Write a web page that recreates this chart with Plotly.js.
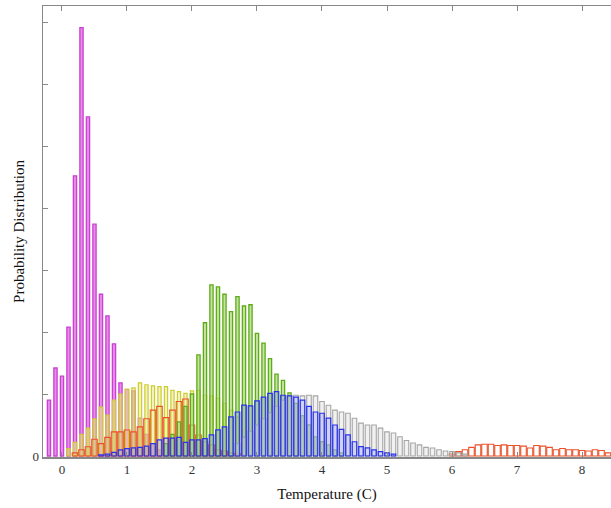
<!DOCTYPE html>
<html><head><meta charset="utf-8">
<script src="https://cdn.plot.ly/plotly-3.0.1.min.js"></script>
<style>html,body{margin:0;padding:0;background:#fff}#c{width:611px;height:508px}</style>
</head><body><div id="c"></div>
<script>
// Series bins (temperature, C) and probability values
const magentaX = [-0.2,-0.1,0.0,0.1,0.2,0.3,0.4,0.5,0.6,0.7,0.8,0.9,1.0,1.1,1.2,1.3,1.4,1.5];
const magentaY = [0.90,1.42,1.29,2.08,4.52,6.91,5.47,3.74,2.61,2.26,1.81,1.18,1.07,1.05,0.61,0.35,0.20,0.10];

const yellowX = [0.1,0.2,0.3,0.4,0.5,0.6,0.7,0.8,0.9,1.0,1.1,1.2,1.3,1.4,1.5,1.6,1.7,1.8,1.9,2.0,2.1,2.2,2.3,2.4,2.5,2.6,2.7,2.8];
const yellowY = [0.12,0.22,0.35,0.45,0.60,0.79,0.66,0.90,1.00,1.08,1.10,1.18,1.15,1.13,1.12,1.12,1.06,1.04,1.01,1.05,1.06,0.98,0.97,0.93,0.85,0.74,0.63,0.30];

const redX = [0.2,0.3,0.4,0.5,0.6,0.7,0.8,0.9,1.0,1.1,1.2,1.3,1.4,1.5,1.6,1.7,1.8,1.9,2.0,2.1,2.2,2.3,2.4,2.5,2.6,2.7,
  6.0,6.1,6.2,6.3,6.4,6.5,6.6,6.7,6.8,6.9,7.0,7.1,7.2,7.3,7.4,7.5,7.6,7.7,7.8,7.9,8.0,8.1,8.2,8.3,8.4,8.5];
const redY = [0.05,0.10,0.15,0.27,0.20,0.30,0.39,0.39,0.42,0.39,0.47,0.60,0.74,0.80,0.62,0.74,0.88,0.92,0.50,0.34,0.23,0.18,0.10,0.08,0.05,0.04,
  0.03,0.07,0.10,0.14,0.18,0.19,0.19,0.17,0.18,0.17,0.17,0.16,0.13,0.17,0.16,0.14,0.10,0.12,0.10,0.10,0.09,0.08,0.10,0.09,0.05,0.05];

const greenX = [1.6,1.7,1.8,1.9,2.0,2.1,2.2,2.3,2.4,2.5,2.6,2.7,2.8,2.9,3.0,3.1,3.2,3.3,3.4,3.5,3.6,3.7,3.8,3.9,4.0,4.1,4.2,4.3];
const greenY = [0.20,0.35,0.55,0.80,1.00,1.63,2.15,2.76,2.73,2.61,2.33,2.57,2.42,2.44,1.98,1.82,1.57,1.32,1.22,1.02,0.85,0.65,0.50,0.31,0.23,0.18,0.10,0.05];

const grayX = [2.7,2.8,2.9,3.0,3.1,3.2,3.3,3.4,3.5,3.6,3.7,3.8,3.9,4.0,4.1,4.2,4.3,4.4,4.5,4.6,4.7,4.8,4.9,5.0,5.1,5.2,5.3,5.4,5.5,5.6,5.7,5.8,5.9,6.0,6.1,6.2];
const grayY = [0.20,0.30,0.40,0.50,0.60,0.70,0.80,0.90,0.97,0.98,0.97,0.98,0.97,0.88,0.82,0.74,0.71,0.69,0.61,0.53,0.50,0.50,0.45,0.39,0.37,0.31,0.25,0.21,0.18,0.14,0.13,0.10,0.08,0.07,0.05,0.03];

const blueX = [0.6,0.7,0.8,0.9,1.0,1.1,1.2,1.3,1.4,1.5,1.6,1.7,1.8,1.9,2.0,2.1,2.2,2.3,2.4,2.5,2.6,2.7,2.8,2.9,3.0,3.1,3.2,3.3,3.4,3.5,3.6,3.7,3.8,3.9,4.0,4.1,4.2,4.3,4.4,4.5,4.6,4.7,4.8,4.9,5.0,5.1];
const blueY = [0.02,0.03,0.06,0.10,0.12,0.13,0.14,0.16,0.20,0.26,0.29,0.29,0.30,0.22,0.26,0.26,0.28,0.34,0.42,0.47,0.63,0.71,0.82,0.81,0.89,0.95,1.01,1.04,0.98,0.97,0.95,0.90,0.80,0.71,0.69,0.61,0.50,0.43,0.34,0.23,0.15,0.13,0.10,0.07,0.05,0.03];

const xTicks = [0,1,2,3,4,5,6,7,8];
const yTicks = [0,1,2,3,4,5,6,7];
const yTickText = ['0','','','','','','',''];

function barTrace(x, y, fill, line, width, lw) {
  return {type:'bar', x:x, y:y, width:width, marker:{color:fill, line:{color:line, width:lw}}, hoverinfo:'skip', showlegend:false};
}

const data = [
  barTrace(magentaX, magentaY, 'rgba(228,120,228,0.85)', 'rgb(200,65,210)', 0.05, 1.3),
  barTrace(yellowX, yellowY, 'rgba(232,232,130,0.55)', 'rgb(205,205,50)', 0.05, 1.2),
  barTrace(redX, redY, 'rgba(255,255,255,0)', 'rgb(235,80,40)', 0.085, 1.1),
  barTrace(greenX, greenY, 'rgba(165,212,110,0.65)', 'rgb(95,172,25)', 0.05, 1.3),
  barTrace(grayX, grayY, 'rgba(220,220,220,0.4)', 'rgb(165,165,165)', 0.07, 1.1),
  barTrace(blueX, blueY, 'rgba(130,140,240,0.3)', 'rgb(40,50,235)', 0.07, 1.2)
];

const layout = {
  width:611, height:508,
  margin:{l:43, r:0, t:6, b:51},
  paper_bgcolor:'#fff', plot_bgcolor:'#fff',
  barmode:'overlay', bargap:0,
  font:{family:'Liberation Serif, serif', color:'#222', size:13},
  xaxis:{range:[-0.292,8.446], tickvals:xTicks, ticks:'inside', ticklen:5, tickcolor:'#888',
    showline:true, linecolor:'#888', linewidth:1.5, mirror:'ticks', showgrid:false, zeroline:false,
    tickfont:{family:'Liberation Serif, serif', size:13, color:'#333'},
    title:{text:'Temperature (C)', font:{family:'Liberation Serif, serif', size:15, color:'#111'}, standoff:12}},
  yaxis:{range:[-0.016,7.26], tickvals:yTicks, ticktext:yTickText, ticks:'inside', ticklen:5, tickcolor:'#888',
    showline:true, linecolor:'#888', linewidth:1.5, showgrid:false, zeroline:false,
    tickfont:{family:'Liberation Serif, serif', size:13, color:'#333'},
    title:{text:'Probability Distribution', font:{family:'Liberation Serif, serif', size:15, color:'#111'}, standoff:4}}
};

Plotly.newPlot('c', data, layout, {staticPlot:true, displayModeBar:false});
</script>
</body></html>
